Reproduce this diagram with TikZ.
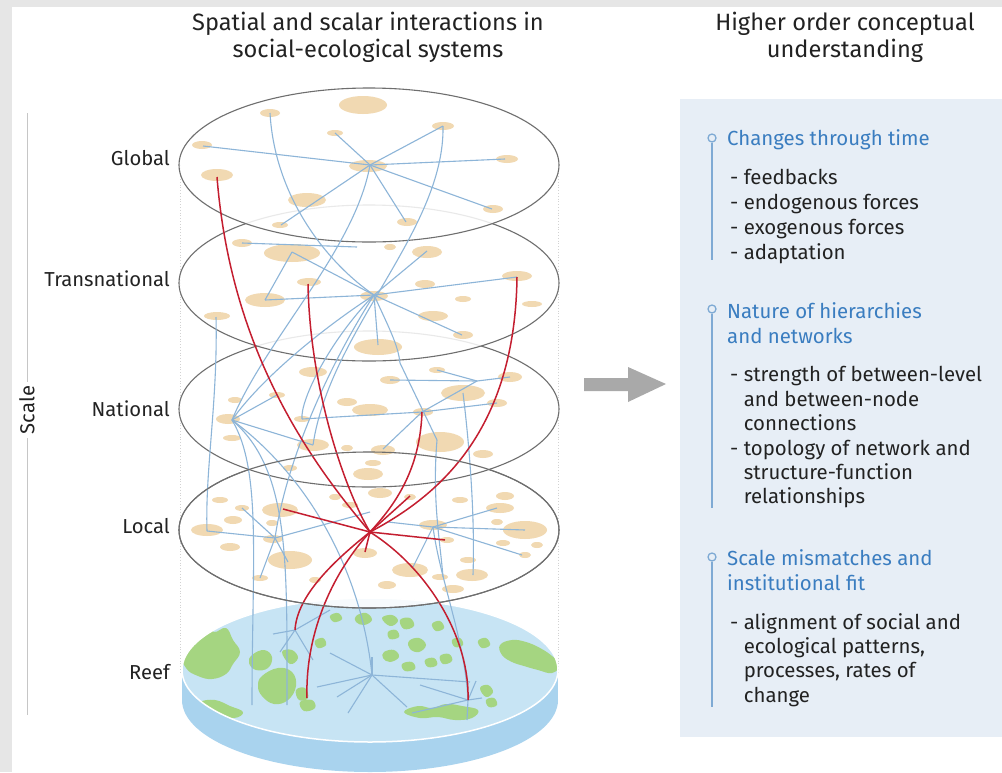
\documentclass[tikz,border=0pt]{standalone}
\usepackage{fontspec}
\setmainfont{Fira Sans}
\definecolor{blobc}{HTML}{F1D9B2}
\definecolor{linkb}{HTML}{8DB5D8}
\definecolor{linkr}{HTML}{C41E30}
\definecolor{rimc}{HTML}{6E6E6E}
\definecolor{textc}{HTML}{222222}
\definecolor{headc}{HTML}{3A7DC0}
\definecolor{sidel}{HTML}{7FAAD4}
\definecolor{panelc}{HTML}{E7EEF6}
\definecolor{greyb}{HTML}{E6E6E6}
\definecolor{reeftop}{HTML}{C7E4F4}
\definecolor{reefside}{HTML}{A9D3EE}
\definecolor{islandc}{HTML}{A5D581}
\definecolor{arrowc}{HTML}{A9A9A9}
\newcommand\blobat[4]{\fill[blobc] (#1,#2) ellipse [x radius=#3pt, y radius=#4pt];}
\newcommand\isl[1]{\fill[islandc] plot[smooth cycle, tension=0.7] coordinates {#1};}
\begin{document}
\begin{tikzpicture}[x=1pt,y=-1pt,
  blink/.style={draw=linkb, line width=1.1pt},
  rlink/.style={draw=linkr, line width=1.5pt},
  level/.style={fill=white, fill opacity=0.85, draw=rimc, line width=1.1pt},
  lab/.style={anchor=base east, font=\fontsize{20.2}{22}\selectfont, text=textc, inner sep=0pt},
  head/.style={anchor=base west, font=\fontsize{20.4}{22}\selectfont, text=headc, inner sep=0pt},
  item/.style={anchor=base west, font=\fontsize{20.4}{22}\selectfont, text=textc, inner sep=0pt},
  ttl/.style={anchor=base, font=\fontsize{23.6}{26}\selectfont, text=textc, inner sep=0pt},
  secline/.style={draw=sidel, line width=1.8pt},
  secdot/.style={circle, draw=sidel, fill=panelc, line width=1.3pt, minimum size=8pt, inner sep=0pt}
]
\useasboundingbox (0,0) rectangle (1002,772);
% background
\fill[greyb] (0,0) rectangle (1002,772);
\fill[white] (12,7) rectangle (1002,772);
\fill[panelc] (680,99) rectangle (1002,737);

% ---------- coordinates ----------
\coordinate (g0) at (370,165);
\coordinate (g1) at (203,146);
\coordinate (g2) at (270,113);
\coordinate (g3) at (335,133);
\coordinate (g4) at (443,126);
\coordinate (g5) at (505,159);
\coordinate (g6) at (492,209);
\coordinate (g7) at (406,222);
\coordinate (g8) at (281,225);
\coordinate (g9) at (217,177);
\coordinate (t0) at (374,295);
\coordinate (t1) at (292,252);
\coordinate (t2) at (242,243);
\coordinate (t2b) at (357,247);
\coordinate (t3) at (427,251);
\coordinate (t4) at (517,277);
\coordinate (t5) at (308,284);
\coordinate (t6) at (265,300);
\coordinate (t7) at (462,335);
\coordinate (t8) at (378,345);
\coordinate (t9) at (216,317);
\coordinate (nA) at (232,420);
\coordinate (nB) at (422,412);
\coordinate (n1) at (277,395);
\coordinate (n2) at (313,445);
\coordinate (n3) at (390,380);
\coordinate (n4) at (437,370);
\coordinate (n5) at (477,381);
\coordinate (n6) at (510,377);
\coordinate (n7) at (497,403);
\coordinate (n8) at (302,419);
\coordinate (n9) at (383,449);
\coordinate (n10) at (437,440);
\coordinate (n11) at (400,363);
\coordinate (n12) at (463,393);
\coordinate (lR) at (370,532);
\coordinate (lC) at (275,538);
\coordinate (lD) at (433,527);
\coordinate (l1) at (242,508);
\coordinate (l2) at (207,531);
\coordinate (l3) at (288,562);
\coordinate (l4) at (260,578);
\coordinate (l5) at (388,522);
\coordinate (l6) at (497,508);
\coordinate (l7) at (525,530);
\coordinate (l8) at (522,555);
\coordinate (l9) at (413,567);
\coordinate (l10) at (370,512);
\coordinate (l11) at (473,575);
\coordinate (l12) at (443,577);
\coordinate (lr1) at (283,509);
\coordinate (lr2) at (410,496);
\coordinate (lr3) at (445,540);
\coordinate (lr4) at (365,552);
\coordinate (r1) at (295,630);
\coordinate (r2) at (372,675);
\coordinate (r3) at (468,700);
\coordinate (rE) at (307,698);
\coordinate (rv1) at (252,705);
\coordinate (rv2) at (287,705);
\coordinate (ra1) at (273,634);
\coordinate (ra2) at (330,610);
\coordinate (ra3) at (280,652);
\coordinate (ra4) at (313,660);
\coordinate (rb1) at (330,653);
\coordinate (rb2) at (317,687);
\coordinate (rb3) at (337,697);
\coordinate (rb4) at (348,713);
\coordinate (rb5) at (407,707);
\coordinate (rb6) at (372,657);
\coordinate (rb7) at (470,682);
\coordinate (rc1) at (420,685);
\coordinate (rc2) at (482,698);
\coordinate (rc3) at (467,720);
\coordinate (rc4) at (412,713);
\coordinate (rc5) at (476,681);

% dotted side guides
\draw[gray!35, dotted, line width=0.8pt] (180,165) -- (180,672);
\draw[gray!35, dotted, line width=0.8pt] (558,165) -- (558,672);

% ---------- reef disk ----------
\fill[reefside] (370,700) ellipse [x radius=188pt, y radius=72pt];
\fill[reefside] (182,670) rectangle (558,700);
\fill[reeftop] (370,670) ellipse [x radius=188pt, y radius=72pt];
\begin{scope}
\clip (370,670) ellipse [x radius=188pt, y radius=72pt];
% left large island
\isl{(190,630) (205,624) (214,632) (226,628) (233,640) (240,652) (233,664) (226,674) (212,679) (198,676) (186,668) (180,650)}
\isl{(214,616) (224,613) (228,620) (220,624)}
% left-middle cluster
\isl{(252,655) (264,650) (272,657) (268,668) (256,670) (249,663)}
\isl{(262,676) (278,668) (292,672) (296,686) (288,700) (274,704) (262,696) (258,686)}
\isl{(282,652) (292,650) (298,658) (290,664)}
\isl{(296,690) (305,688) (308,698) (299,700)}
\isl{(300,702) (312,700) (315,708) (304,711)}
% left-bottom strip
\isl{(200,702) (215,700) (230,706) (243,712) (234,718) (214,714) (201,709)}
% right large island
\isl{(500,645) (512,640) (526,642) (540,648) (552,656) (560,665) (552,673) (538,670) (524,666) (512,662) (502,655)}
% middle-top small patches
\isl{(356,616) (366,613) (372,620) (364,625) (356,622)}
\isl{(382,618) (392,615) (398,621) (390,626)}
\isl{(400,620) (410,618) (414,626) (404,629)}
\isl{(388,632) (396,630) (399,637) (390,639)}
\isl{(409,641) (419,638) (426,645) (419,652) (410,649)}
\isl{(384,652) (394,650) (399,657) (390,662) (383,658)}
\isl{(402,664) (412,662) (415,669) (405,671)}
\isl{(425,660) (434,658) (437,665) (428,667)}
\isl{(440,656) (449,654) (452,661) (443,664)}
\isl{(432,624) (440,621) (444,628) (436,631)}
\isl{(452,640) (460,638) (463,645) (455,647)}
\isl{(330,616) (338,613) (342,619) (334,622)}
\isl{(315,641) (323,638) (326,645) (318,648)}
\isl{(478,641) (486,638) (490,645) (482,648)}
% right-bottom strip
\isl{(404,712) (418,706) (432,708) (446,704) (462,706) (478,710) (472,718) (455,720) (438,717) (420,718)}
\isl{(480,688) (488,685) (493,692) (486,697)}
\isl{(486,700) (494,698) (497,705) (489,707)}
\end{scope}
\draw[white, line width=1.5pt] (370,670) ellipse [x radius=188pt, y radius=72pt];

% reef network
\draw[blink] (r1) -- (ra1);
\draw[blink] (r1) -- (ra2);
\draw[blink] (r1) -- (ra3);
\draw[blink] (r1) -- (ra4);
\draw[blink] (r2) -- (rb1);
\draw[blink] (r2) -- (rb2);
\draw[blink] (r2) -- (rb3);
\draw[blink] (r2) -- (rb4);
\draw[blink] (r2) -- (rb5);
\draw[blink] (r2) -- (rb6);
\draw[blink] (r2) -- (rb7);
\draw[blink] (r3) -- (rc1);
\draw[blink] (r3) -- (rc2);
\draw[blink] (r3) -- (rc3);
\draw[blink] (r3) -- (rc4);
\draw[blink] (r3) -- (rc5);

% ---------- local layer ----------
\path[level] (369,530) ellipse [x radius=190pt, y radius=78pt];
\blobat{380}{493}{12}{5}\blobat{410}{497}{6}{3}\blobat{505}{496}{9}{4}
\blobat{220}{500}{8}{3}\blobat{280}{510}{18}{7}\blobat{350}{505}{8}{3}
\blobat{500}{508}{14}{5}\blobat{242}{508}{7}{3}\blobat{233}{520}{9}{4}
\blobat{272}{523}{6}{3}\blobat{433}{525}{14}{5}\blobat{497}{522}{6}{3}
\blobat{207}{530}{16}{6}\blobat{525}{530}{22}{9}\blobat{273}{539}{10}{4}
\blobat{447}{540}{7}{3}\blobat{503}{543}{7}{3}\blobat{537}{545}{6}{3}
\blobat{230}{547}{10}{4}\blobat{365}{553}{12}{5}\blobat{290}{560}{22}{9}
\blobat{468}{560}{8}{3}\blobat{525}{555}{6}{3}\blobat{410}{570}{18}{7}
\blobat{472}{575}{16}{6}\blobat{260}{578}{8}{3}\blobat{440}{577}{8}{3}
\blobat{387}{585}{9}{4}\blobat{453}{589}{11}{4}\blobat{335}{497}{6}{3}
\blobat{460}{500}{8}{3}\blobat{315}{580}{6}{3}

% ---------- national layer ----------
\path[level] (369,409) ellipse [x radius=190pt, y radius=78pt];
\blobat{313}{372}{14}{5}\blobat{390}{380}{10}{4}\blobat{437}{370}{8}{3}
\blobat{510}{377}{12}{5}\blobat{463}{393}{22}{8}\blobat{235}{400}{7}{3}
\blobat{277}{395}{8}{3}\blobat{347}{402}{10}{4}\blobat{370}{410}{18}{6}
\blobat{497}{403}{10}{4}\blobat{228}{419}{12}{5}\blobat{302}{419}{8}{3}
\blobat{423}{412}{10}{4}\blobat{232}{438}{9}{3}\blobat{313}{445}{16}{6}
\blobat{347}{448}{6}{3}\blobat{383}{450}{12}{5}\blobat{440}{442}{24}{10}
\blobat{483}{454}{10}{4}\blobat{290}{468}{7}{3}\blobat{373}{463}{8}{3}
\blobat{368}{474}{15}{6}

% ---------- transnational layer ----------
\path[level] (369,283) ellipse [x radius=190pt, y radius=78pt];
\blobat{292}{253}{28}{9}\blobat{242}{243}{10}{4}\blobat{427}{252}{15}{6}
\blobat{390}{247}{6}{3}\blobat{517}{276}{15}{5}\blobat{309}{282}{12}{4}
\blobat{265}{300}{20}{7}\blobat{425}{284}{10}{4}\blobat{463}{299}{8}{3}
\blobat{532}{304}{10}{3}\blobat{217}{316}{13}{4}\blobat{433}{316}{15}{5}
\blobat{463}{335}{10}{4}\blobat{378}{347}{24}{8}\blobat{374}{296}{14}{5}

% ---------- global layer ----------
\path[level] (369,165) ellipse [x radius=190pt, y radius=77pt];
\blobat{363}{105}{24}{9}\blobat{270}{113}{10}{4}\blobat{335}{133}{8}{3}
\blobat{443}{126}{11}{4}\blobat{202}{145}{10}{4}\blobat{217}{175}{16}{6}
\blobat{368}{166}{19}{6}\blobat{507}{159}{11}{4}\blobat{307}{200}{19}{7}
\blobat{493}{209}{10}{4}\blobat{407}{222}{10}{4}\blobat{280}{225}{8}{3}

% ---------- intra-layer blue links ----------
\foreach \e in {g1,g3,g4,g5,g6,g7,g8} {\draw[blink] (g0) -- (\e);}
\draw[blink] (t2) -- (t2b);
\draw[blink] (t1) -- (t0);
\draw[blink] (t1) -- (t6);
\draw[blink] (t6) -- (t0);
\foreach \e in {t3,t4,t7,t8} {\draw[blink] (t0) -- (\e);}
\draw[blink] (nA) -- (n1);
\draw[blink] (nA) -- (n2);
\draw[blink] (n3) -- (n5);
\draw[blink] (n5) -- (n6);
\draw[blink] (n4) -- (n5);
\draw[blink] (n5) -- (nB);
\foreach \e in {n7,n8,n9} {\draw[blink] (nB) -- (\e);}
\draw[blink] (n11) -- (n10);
\draw[blink] (lC) -- (l1);
\draw[blink] (l2) -- (lC);
\draw[blink] (lC) -- (l10);
\draw[blink] (lC) -- (l3);
\draw[blink] (lC) -- (l4);
\foreach \e in {l5,l6,l7,l8,l9} {\draw[blink] (lD) -- (\e);}

% ---------- inter-layer blue links ----------
\draw[blink] (g2) .. controls (275,200) and (330,265) .. (t0);
\draw[blink] (g4) .. controls (445,230) and (330,330) .. (n2);
\draw[blink] (g0) .. controls (355,250) and (265,340) .. (nA);
\draw[blink] (t0) .. controls (320,330) and (260,380) .. (nA);
\draw[blink] (t0) .. controls (330,340) and (300,400) .. (n8);
\draw[blink] (t0) .. controls (390,330) and (398,345) .. (n11);
\draw[blink] (t0) .. controls (320,380) and (285,470) .. (lC);
\draw[blink] (t9) .. controls (218,400) and (205,470) .. (l2);
\draw[blink] (nA) .. controls (262,470) and (252,560) .. (rv1);
\draw[blink] (nA) .. controls (290,470) and (287,560) .. (rv2);
\draw[blink] (nA) .. controls (300,470) and (360,560) .. (r2);
\draw[blink] (n12) .. controls (470,450) and (475,520) .. (l11);
\draw[blink] (n10) .. controls (432,500) and (440,540) .. (l12);
\draw[blink] (lD) .. controls (440,580) and (465,640) .. (r3);

% ---------- red links ----------
\draw[rlink] (g9) .. controls (230,340) and (300,450) .. (lR);
\draw[rlink] (t5) .. controls (310,390) and (345,490) .. (lR);
\draw[rlink] (t4) .. controls (515,430) and (440,495) .. (lR);
\draw[rlink] (nB) .. controls (420,470) and (395,505) .. (lR);
\foreach \e in {lr1,lr2,lr3,lr4} {\draw[rlink] (lR) -- (\e);}
\draw[rlink] (lR) .. controls (335,560) and (297,595) .. (r1);
\draw[rlink] (lR) .. controls (335,570) and (305,630) .. (rE);
\draw[rlink] (lR) .. controls (430,570) and (470,640) .. (r3);
\fill[linkr] (lR) circle (2.2pt);

% ---------- level outlines on top ----------
\draw[rimc, line width=1.1pt] (369,530) ellipse [x radius=190pt, y radius=78pt];

% ---------- titles ----------
\node[ttl] (tl1) at (368,30) {Spatial and scalar interactions in};
\node[ttl] (tl2) at (368,57) {social-ecological systems};
\node[ttl] (tr1) at (845,30) {Higher order conceptual};
\node[ttl] (tr2) at (845,57) {understanding};

% ---------- level labels ----------
\node[lab] (lg) at (170,165) {Global};
\node[lab] (lt) at (170,286) {Transnational};
\node[lab] (ln) at (170,416) {National};
\node[lab] (ll) at (170,533) {Local};
\node[lab] (lr) at (170,679) {Reef};
\node[rotate=90, font=\fontsize{20.2}{22}\selectfont, text=textc, inner sep=4pt] (sc) at (27,410) {Scale};
\coordinate (sTop) at (27,113);
\coordinate (sBot) at (27,715);
\draw[gray!45, line width=0.9pt] (sTop) -- (sc.east);
\draw[gray!45, line width=0.9pt] (sc.west) -- (sBot);

% ---------- arrow ----------
\fill[arrowc] (584,378) -- (628,378) -- (628,367) -- (666,384) -- (628,402) -- (628,391) -- (584,391) -- cycle;

% ---------- right panel ----------
\node[secdot] (d1) at (712,138) {};
\node[secdot] (d2) at (712,309) {};
\node[secdot] (d3) at (712,557) {};
\coordinate (e1) at (712,260);
\coordinate (e2) at (712,508);
\coordinate (e3) at (712,707);
\draw[secline] (d1.south) -- (e1);
\draw[secline] (d2.south) -- (e2);
\draw[secline] (d3.south) -- (e3);

\node[head] (h1) at (727,145) {Changes through time};
\node[item] (i11) at (730,184) {- feedbacks};
\node[item] (i12) at (730,209) {- endogenous forces};
\node[item] (i13) at (730,234) {- exogenous forces};
\node[item] (i14) at (730,259) {- adaptation};

\node[head] (h2a) at (727,318) {Nature of hierarchies};
\node[head] (h2b) at (727,343) {and networks};
\node[item] (i21) at (730,381) {- strength of between-level};
\node[item] (i22) at (730,406) {\phantom{- }and between-node};
\node[item] (i23) at (730,430) {\phantom{- }connections};
\node[item] (i24) at (730,455) {- topology of network and};
\node[item] (i25) at (730,479) {\phantom{- }structure-function};
\node[item] (i26) at (730,503) {\phantom{- }relationships};

\node[head] (h3a) at (727,565) {Scale mismatches and};
\node[head] (h3b) at (727,590) {institutional fit};
\node[item] (i31) at (730,629) {- alignment of social and};
\node[item] (i32) at (730,653) {\phantom{- }ecological patterns,};
\node[item] (i33) at (730,677) {\phantom{- }processes, rates of};
\node[item] (i34) at (730,702) {\phantom{- }change};
\end{tikzpicture}
\end{document}
